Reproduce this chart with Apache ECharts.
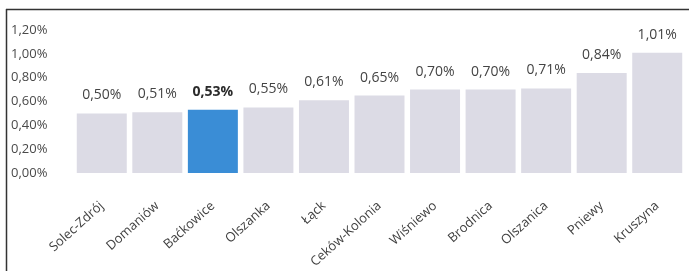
<!DOCTYPE html>
<html>
<head>
<meta charset="utf-8">
<script src="https://cdn.jsdelivr.net/npm/echarts@6/dist/echarts.min.js"></script>
<style>
  html, body { margin: 0; padding: 0; background: #fff; }
  #main { width: 689px; height: 271px; }
</style>
</head>
<body>
<div id="main"></div>
<script>
// gminy i wartości (%)
var categories = ['Solec-Zdrój', 'Domaniów', 'Baćkowice', 'Olszanka', 'Łąck', 'Ceków-Kolonia', 'Wiśniewo', 'Brodnica', 'Olszanica', 'Pniewy', 'Kruszyna'];
var values = [0.50, 0.51, 0.53, 0.55, 0.61, 0.65, 0.70, 0.70, 0.71, 0.84, 1.01];
var highlight = 'Baćkowice';
var yTicks = [0, 0.2, 0.4, 0.6, 0.8, 1.0, 1.2];

function pct(v) {
  return v.toFixed(2).replace('.', ',') + '%';
}

var myChart = echarts.init(document.getElementById('main'));
myChart.setOption({
  animation: false,
  textStyle: { fontFamily: 'Open Sans' },
  grid: { left: 74, top: 30, width: 611, bottom: 98, outerBoundsMode: 'none', containLabel: false },
  xAxis: {
    type: 'category',
    data: categories,
    axisLine: { show: false },
    axisTick: { show: false },
    axisLabel: {
      interval: 0,
      rotate: 42,
      margin: 31,
      fontSize: 13,
      color: '#3f3f3f'
    }
  },
  yAxis: {
    type: 'value',
    min: yTicks[0],
    max: yTicks[yTicks.length - 1],
    interval: 0.2,
    splitLine: { show: false },
    axisLine: { show: false },
    axisTick: { show: false },
    axisLabel: {
      align: 'left',
      margin: 63,
      fontSize: 13,
      color: '#4a4a4a',
      formatter: function (v) { return pct(v); }
    }
  },
  series: [{
    type: 'bar',
    barCategoryGap: '10%',
    data: values.map(function (v, i) {
      var hi = categories[i] === highlight;
      return {
        value: v,
        itemStyle: { color: hi ? '#3a8dd6' : '#dcdbe5' },
        label: { fontWeight: hi ? 'bold' : 'normal', color: hi ? '#2a2a2a' : '#444' }
      };
    }),
    label: {
      show: true,
      position: 'top',
      distance: 11,
      fontSize: 14,
      formatter: function (p) { return pct(p.value); }
    }
  }],
  graphic: [
    { type: 'line', shape: { x1: 6.5, y1: 9, x2: 6.5, y2: 271 }, style: { stroke: '#333', lineWidth: 1.5 } },
    { type: 'line', shape: { x1: 6, y1: 9.5, x2: 689, y2: 9.5 }, style: { stroke: '#333', lineWidth: 1.5 } }
  ]
});
</script>
</body>
</html>
